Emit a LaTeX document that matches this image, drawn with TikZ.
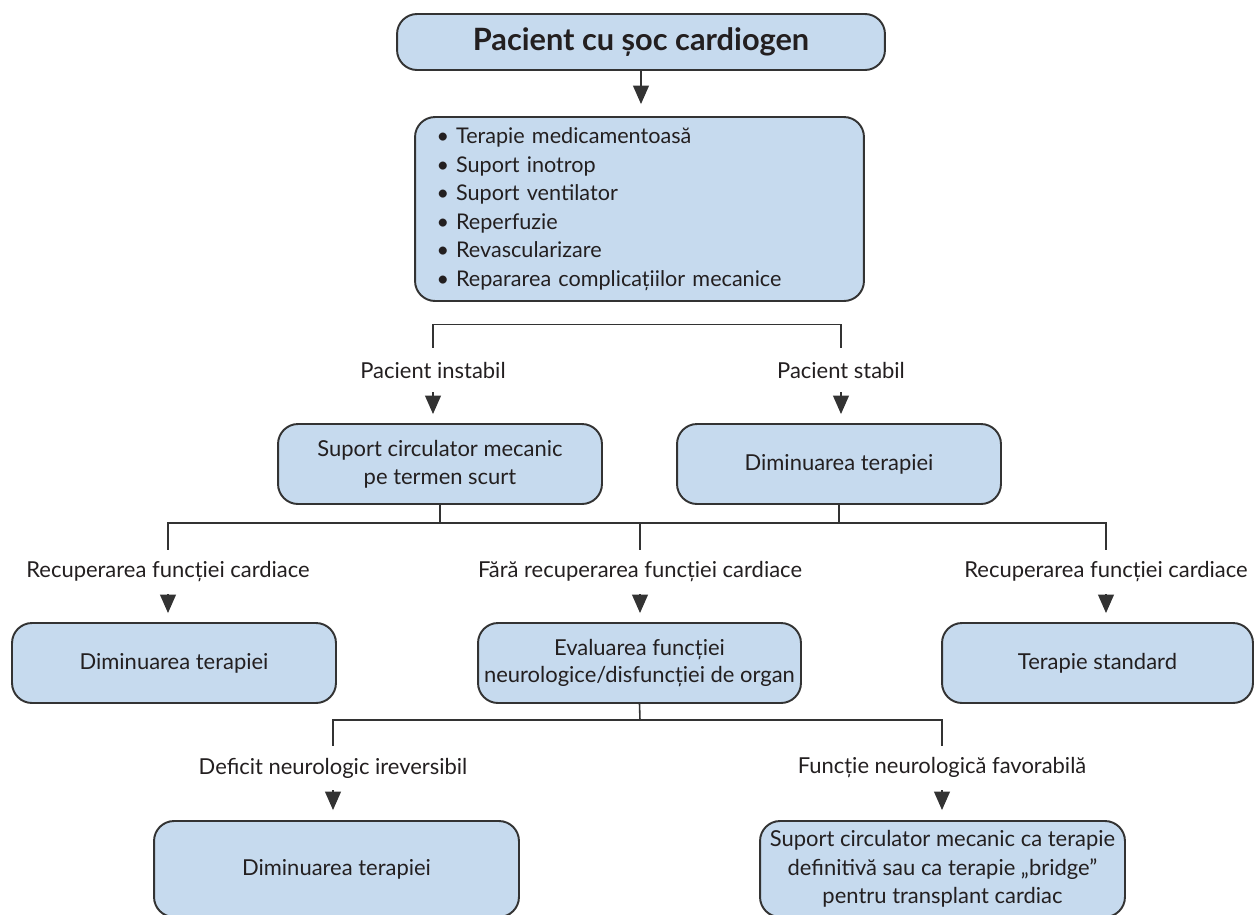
\documentclass[tikz,border=0pt]{standalone}
\usepackage{fontspec}
\setmainfont{Lato}
\usetikzlibrary{arrows.meta}
\definecolor{boxblue}{HTML}{C6DAEE}
\definecolor{linegray}{HTML}{333333}
\definecolor{textdark}{HTML}{231F20}
\tikzset{
  box/.style={draw=linegray, line width=1.1pt, fill=boxblue, rounded corners=0.4cm,
    align=center, text=textdark, inner sep=0pt, font=\fontsize{12.5}{15.8}\selectfont},
  branch/.style={inner sep=0pt, minimum height=0.88cm, text=textdark,
    font=\fontsize{12.5}{15}\selectfont},
  link/.style={draw=linegray, line width=0.9pt},
  go/.style={link, -{Triangle[width=9pt,length=10.5pt]}},
}

\begin{document}
\begin{tikzpicture}[x=0.02cm, y=-0.02cm]
		\clip (0,0) rectangle (1255,914);

		% pacient
		\node[box, minimum width=9.76cm, minimum height=1.12cm,
		  font=\bfseries\fontsize{17.5}{20}\selectfont] (pacient) at (641,42) {Pacient cu șoc cardiogen};

		% masuri initiale
		\node[box, minimum height=3.68cm, text width=8.12cm, inner xsep=0.43cm, align=left,
		  font=\fontsize{12.3}{16.2}\selectfont] (masuri) at (639.5,209)
		  {\textbullet\kern4pt Terapie medicamentoasă\\
		   \textbullet\kern4pt Suport inotrop\\
		   \textbullet\kern4pt Suport ventilator\\
		   \textbullet\kern4pt Reperfuzie\\
		   \textbullet\kern4pt Revascularizare\\
		   \textbullet\kern4pt Repararea complicațiilor mecanice};

		% instabil / stabil
		\node[branch] (instabil) at (433,370) {Pacient instabil};
		\node[branch] (stabil) at (841,370) {Pacient stabil};

		\node[box, minimum width=6.48cm, minimum height=1.6cm] (scm) at (440,464)
		  {Suport circulator mecanic\\pe termen scurt};
		\node[box, minimum width=6.48cm, minimum height=1.6cm] (dimin1) at (839,464)
		  {Diminuarea terapiei};

		% recuperare
		\node[branch] (recup1) at (168,572) {Recuperarea funcției cardiace};
		\node[branch] (farare) at (640,572) {Fără recuperarea funcției cardiace};
		\node[branch] (recup2) at (1106,572) {Recuperarea funcției cardiace};

		\node[box, minimum width=6.48cm, minimum height=1.6cm] (dimin2) at (174,663)
		  {Diminuarea terapiei};
		\node[box, minimum width=6.46cm, minimum height=1.6cm] (evaluare) at (639.5,663)
		  {Evaluarea funcției\\neurologice/disfuncției de organ};
		\node[box, minimum width=6.22cm, minimum height=1.6cm] (standard) at (1097.5,663)
		  {Terapie standard};

		% neurologic
		\node[branch] (deficit) at (333,768) {Deficit neurologic ireversibil};
		\node[branch] (favorabil) at (942,768) {Funcție neurologică favorabilă};

		\node[box, minimum width=7.3cm, minimum height=1.92cm] (dimin3) at (336.5,869)
		  {Diminuarea terapiei};
		\node[box, minimum width=7.3cm, minimum height=1.92cm,
		  font=\fontsize{12.5}{16.2}\selectfont] (sustinere) at (942.5,869)
		  {Suport circulator mecanic ca terapie\\definitivă sau ca terapie „bridge”\\pentru transplant cardiac};

		% bare de ramificare
		\draw[link] (instabil.north) -- ++(0,-23) -| (stabil.north);

		\coordinate (bar2) at (640,523);
		\draw[link] (recup1.north) |- (bar2) -| (recup2.north);
		\draw[link] (scm.south) -- (scm.south |- bar2);
		\draw[link] (dimin1.south) -- (dimin1.south |- bar2);
		\draw[link] (farare.north) -- (bar2);

		\coordinate (bar3) at (640,720);
		\draw[link] (evaluare.south) -- (bar3);
		\draw[link] (deficit.north) |- (bar3) -| (favorabil.north);

		% sageti
		\draw[go, shorten >=0.24cm] (pacient.south) -- (pacient.south |- masuri.north);
		\draw[go, shorten >=0.18cm] (instabil.south) -- (instabil.south |- scm.north);
		\draw[go, shorten >=0.18cm] (stabil.south) -- (stabil.south |- dimin1.north);
		\draw[go, shorten >=0.18cm] (recup1.south) -- (recup1.south |- dimin2.north);
		\draw[go, shorten >=0.18cm] (farare.south) -- (farare.south |- evaluare.north);
		\draw[go, shorten >=0.18cm] (recup2.south) -- (recup2.south |- standard.north);
		\draw[go, shorten >=0.2cm] (deficit.south) -- (deficit.south |- dimin3.north);
		\draw[go, shorten >=0.2cm] (favorabil.south) -- (favorabil.south |- sustinere.north);

	\end{tikzpicture}
\end{document}
